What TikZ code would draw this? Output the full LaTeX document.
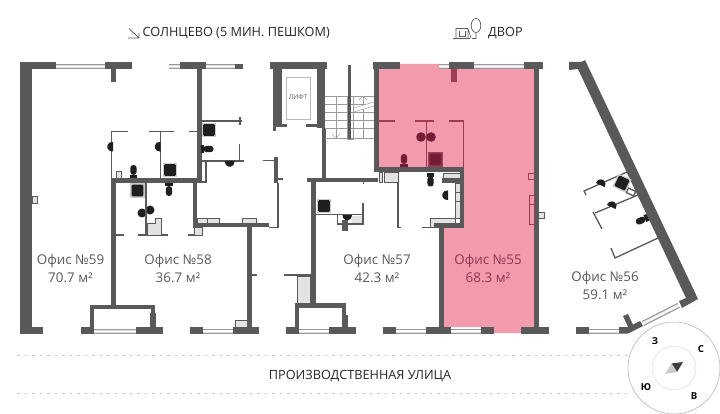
\documentclass[tikz,border=0pt]{standalone}
\usepackage{fontspec}
\setmainfont{Open Sans}
\definecolor{wallc}{HTML}{595959}
\definecolor{pinkc}{HTML}{F29BAC}
\definecolor{dpink}{HTML}{A03C58}
\definecolor{fixc}{HTML}{1F1F1F}
\definecolor{fixp}{HTML}{751C36}
\definecolor{lightb}{HTML}{E2E2E2}
\definecolor{stepc}{HTML}{9A9A9A}
\definecolor{dashc}{HTML}{C8C8C8}
\tikzset{
  wallfill/.style={fill=wallc,draw=none},
  thin wall/.style={draw=wallc,line width=1.3pt},
  pink wall/.style={draw=dpink,line width=1.3pt},
  lbox/.style={fill=lightb,draw=#1,line width=.8pt},
  lbox/.default=wallc,
  lab/.style={font=\fontsize{13.4}{15}\selectfont,text=wallc,inner sep=0pt},
  labp/.style={font=\fontsize{13.4}{15}\selectfont,text=dpink!90!black,inner sep=0pt},
  head/.style={font=\fontsize{12.7}{14}\selectfont,text=black!85,inner sep=0pt},
  comp/.style={font=\bfseries\fontsize{9.6}{11}\selectfont,text=black,inner sep=0pt},
  stepl/.style={draw=stepc,line width=.45pt}
}
\newcommand{\wl}[4]{\fill[wallfill] (#1,#2) rectangle (#3,#4);}
\newcommand{\wlp}[4]{\fill[dpink] (#1,#2) rectangle (#3,#4);}
\newcommand{\hwin}[4]{\fill[white!88!black] (#1,#2) rectangle (#3,#4);
  \draw[stepc,line width=1pt] (#1,#2+.5) -- (#3,#2+.5) (#1,#4-.5) -- (#3,#4-.5);
  \draw[white,line width=1.2pt] (#1,{(#2+#4)/2}) -- (#3,{(#2+#4)/2});}
\newcommand{\sqfix}[5]{\begin{scope}[shift={(#1,#2)},rotate=#3]
  \fill[#5] (-7.2,-7.2) rectangle (7.2,7.2);
  \fill[#4,rounded corners=1pt] (-5.8,-5.8) rectangle (5.8,5.8);
\end{scope}}
\newcommand{\toil}[4]{\begin{scope}[shift={(#1,#2)},rotate=#3]
  \fill[#4] (-3.6,6.5) rectangle (3.6,3.2);
  \fill[#4,rounded corners=3pt] (-3.2,3.4) -- (3.2,3.4) -- (3.2,-6.5) -- (-3.2,-6.5) -- cycle;
\end{scope}}
\newcommand{\bas}[4]{\begin{scope}[shift={(#1,#2)},rotate=#3]
  \fill[#4] (-4.6,1) arc[start angle=192,end angle=-12,radius=4.8] -- cycle;
\end{scope}}
\begin{document}
\begin{tikzpicture}[x=1pt,y=-1pt]
\useasboundingbox (0,0) rectangle (720,414);
\fill[white] (0,0) rectangle (720,414);

% ---------- pink office
\fill[pinkc] (379,69) -- (400,69) -- (400,64) -- (439,64) -- (439,69) -- (534,69) -- (534,327) -- (521,327) -- (521,333) -- (494,333) -- (494,327) -- (443,327) -- (443,226) -- (464,226) -- (464,172) -- (379,172) -- cycle;

% ---------- street dashes
\draw[dashc,line width=.6pt,dash pattern=on 2.5pt off 5pt] (17,355) -- (628,355);
\draw[dashc,line width=.6pt,dash pattern=on 2.5pt off 5pt] (17,393) -- (628,393);

% ---------- office 59 / 58 walls
\wl{20}{62}{56}{69}\wl{20}{62}{32}{334}\wl{20}{327}{43}{334}
\hwin{56}{64}{105}{69}
\wl{105}{62}{132}{69}\wl{110.5}{69}{116}{82}
\hwin{169}{64}{180}{69}
\wl{180}{62}{206}{69}
\hwin{206}{64}{235}{69}
\wl{235}{64}{243}{69}
\wl{197}{69}{202}{183}
\wl{111}{178}{202}{183}
\wl{111}{178}{116}{307}
\wl{90}{305}{154}{309}
\wl{90}{305}{94}{328}\wl{150}{313}{156}{328}\wl{151}{305}{155}{328}
\wl{81}{327}{94}{334}\hwin{94}{329}{136}{334}\wl{136}{327}{163}{334}
\draw[lbox] (32,196.5) rectangle (37.5,203);
\draw[thin wall] (111.5,178) -- (111.5,131.5) -- (128,131.5);
\draw[thin wall] (149,131.5) -- (174,131.5) (160.5,131.5) -- (160.5,178);
\draw[thin wall] (189,131.5) -- (198,131.5);
\draw[thin wall] (202,121) -- (242,121) (240,117) -- (240,125);
\draw[thin wall] (202,161) -- (244,161) (239.5,144) -- (239.5,161);
\draw[thin wall] (206,161) -- (206,182) -- (201,182);
\draw[lbox] (116,171) rectangle (121,178);
\sqfix{209}{130}{0}{fixc}{white!80!black}
\sqfix{170}{170}{0}{fixc}{white!80!black}
\sqfix{137.5}{190.5}{0}{fixc}{white!80!black}
\bas{114}{146.5}{-90}{fixc}
\bas{161.5}{146.5}{-90}{fixc}
\bas{229.5}{160}{0}{fixc}
\toil{133.5}{171.5}{0}{fixc}
\toil{169}{189.5}{180}{fixc}
\toil{207}{149}{-90}{fixc}
\fill[fixc] (142,213) circle[radius=4.5] (150,210) circle[radius=4.5];
\draw[thin wall] (146,183) -- (146,235);
\draw[thin wall] (116,235) -- (124,235) (138,235) -- (168,235) (188,235) -- (203,235);
\draw[lbox] (147,235) -- (147,223) -- (155,223) -- (155,218.5) -- (161,218.5) -- (161,235) -- cycle;
\wl{193}{183}{197}{228}
\wl{193}{223}{269}{227.5}
\draw[lbox] (197,218.5) rectangle (207,223);\draw[lbox] (207,218.5) rectangle (219,223);
\draw[lbox] (242,218.5) rectangle (256,223);
\draw[lbox] (194,227.5) rectangle (202,235);
\wl{247}{227}{252}{327}
\draw[thin wall] (252,275) -- (257,275);
\draw[lbox] (235,320) rectangle (247,327);
\wl{190}{327}{203}{333.5}\hwin{203}{328.5}{233}{333.5}\wl{233}{327}{259}{333.5}
\draw[thin wall] (269,227.5) -- (278,227.5) -- (278,183);
\draw[thin wall] (263,160.5) -- (275,160.5) ;
\wl{273.5}{157}{278}{183}
\draw[thin wall] (278,179) -- (283,179);

% ---------- lift + stair
\wl{270}{62}{327}{69}
\wl{273}{69}{282}{125}
\wl{317}{69}{325}{128}
\wl{322}{128}{326}{178}
\wl{273}{125}{276}{131}
\wl{276}{124}{287}{127}
\wl{306}{124}{322}{127.5}
\draw[draw=stepc!70,line width=.8pt] (286,77) rectangle (310,119);
\node[inner sep=0pt,font=\fontsize{6.6}{8}\selectfont,text=wallc] (lift) at (298,97.5) {ЛИФТ};
\foreach \yy in {96,104,112,120,128,138.5}{\draw[stepl] (325,\yy) -- (374,\yy);}
\draw[stepl] (336,96) -- (336,138) (363,96) -- (363,138);
\draw[stepl] (332,134) -- (336,138.5) -- (340,134);
\draw[stepl] (359,100) -- (363,96) -- (367,100);
\fill[white] (354,108) -- (374,102) -- (374,106) -- (354,112) -- cycle;
\draw[stepl] (354,108) -- (374,102) (354,112) -- (374,106);
\draw[stepl] (347,96) rectangle (353.5,139);
\wl{348}{65}{351}{139}
\wl{311}{178}{378}{182.5}
\wl{307}{178}{316}{182.5}
\fill[wallc] (363,182) rectangle (364,184);

% ---------- pink office walls
\wl{373}{62}{400}{69}
\wl{374}{69}{379}{172}
\wl{374}{167}{464}{172}
\hwin{439}{64}{449}{69}
\wl{449}{62}{474}{69}
\hwin{474}{64}{524}{69}
\wl{524}{62}{543}{69}
\wl{534}{69}{539}{327}
\wlp{451}{69}{457}{82}
\draw[pink wall] (379,121) -- (395,121) (415,121) -- (434,121) (449,121) -- (463.5,121) -- (463.5,167);
\draw[pink wall] (426.5,121) -- (426.5,167);
\fill[fixp] (421,137) circle[radius=4.8] (431,137) circle[radius=4.8];
\sqfix{435.5}{159.5}{0}{fixp}{dpink}
\toil{404}{160.5}{0}{fixp}
\draw[dpink,line width=.9pt,fill=pinkc] (528.5,173.5) rectangle (534,179);
\draw[dpink,line width=.9pt,fill=pinkc] (529.5,195) rectangle (534,204) (529.5,204) rectangle (534,224);
\draw[lbox] (538.5,212) rectangle (544.5,218);

% ---------- office 57 walls
\wl{311}{178}{316}{307}
\wl{296}{303}{346}{307.5}
\wl{295}{303}{299}{328}\wl{342}{303}{346}{328}\wl{342}{315}{347.5}{328}
\wl{286}{327}{299}{333.5}\hwin{299}{328.5}{329}{333.5}\wl{329}{327}{356}{333.5}
\draw[thin wall] (284,275) -- (311,275);
\draw[lbox] (297,276) rectangle (310.5,303);
\sqfix{324}{206}{0}{fixc}{white!80!black}
\bas{347}{213.5}{0}{fixc}
\draw[thin wall] (316,214.5) -- (363,214.5) (363,203) -- (363,224) -- (337.5,224) -- (337.5,214.5);
\fill[lightb] (352,216) rectangle (362,223);
\wl{342}{220}{348}{231}
\draw[thin wall] (398,172) -- (398,227.5) -- (401,227.5);
\draw[lbox] (379,172.5) rectangle (382.5,182);
\draw[lbox] (384,172.5) rectangle (398,182);
\toil{430.5}{180}{180}{fixc}
\bas{449}{195}{-90}{fixc}
\wl{442}{178}{464}{183}
\draw[lbox] (443,173) rectangle (460,178);
\wl{460}{172}{464}{226}
\draw[lbox] (455,183) rectangle (460,192);\draw[lbox] (455,192) rectangle (460,201);
\draw[lbox] (455,201) rectangle (460,218);
\wl{435}{223}{464}{228}
\wl{439}{223}{444}{327}
\draw[lbox] (430,218) -- (455,218) -- (455,223) -- (434,223) -- (434,227) -- (430,227) -- cycle;
\draw[thin wall] (422,227.5) -- (435,227.5);
\wl{383}{327}{396}{333.5}\hwin{396}{328.5}{426}{333.5}\wl{426}{327}{451}{333.5}
\hwin{451}{328.5}{481}{333.5}\wl{481}{327}{494}{333.5}\wl{521}{327}{549}{333.5}

% ---------- office 56 (slanted)
\fill[wallfill] (569,62) -- (569,70) -- (578,69) -- (686,298) -- (679,301) -- (682,308) -- (698,299) -- (585,60) -- (581,62) -- cycle;
\begin{scope}[shift={(643,323.5)},rotate=27]
  \fill[white!88!black] (0,-2.6) rectangle (40,2.6);
  \draw[stepc,line width=1pt] (0,-2.2) -- (40,-2.2) (0,2.2) -- (40,2.2);
  \draw[white,line width=1.2pt] (0,0) -- (40,0);
\end{scope}
\fill[wallfill] (619,327) -- (628,327) -- (640,321) -- (643,326) -- (628,333.5) -- (619,333.5) -- cycle;
\fill[wallfill] (623,316) -- (628,314) -- (634,327) -- (629,329) -- cycle;
\hwin{589}{328.5}{619}{333.5}
\wl{576}{327}{589}{333.5}
\draw[thin wall] (586,195) -- (584,191) -- (627,172);
\draw[thin wall] (602,229) -- (593,212) (595,213) -- (638,195);
\draw[thin wall] (611,248) -- (615,258) -- (658,238);
\draw[thin wall,fill=white,rotate around={-25:(631,192)}] (627,189.5) rectangle (635,194.5);
\sqfix{622}{183}{-25}{fixc}{white!80!black}
\bas{600}{186}{155}{fixc}
\bas{611}{208}{155}{fixc}
\toil{642}{220}{115}{fixc}

% ---------- compass
\fill[white] (674,368) circle[radius=46];
\draw[stepc!80,line width=.5pt] (674,368) circle[radius=46];
\draw[black!15,line width=.5pt] (674,368) circle[radius=22];
\fill[wallc!70!black] (683,362) -- (671.5,363.5) -- (677,372) -- cycle;
\fill[lightb!90!black] (665,374) -- (671.5,363.5) -- (677,372) -- cycle;
\node[comp] (zz) at (655,341) {З};
\node[comp] (cc) at (701,349) {С};
\node[comp] (yu) at (646,387.5) {Ю};
\node[comp] (vv) at (694,396) {В};

% ---------- texts
\draw[wallc,line width=.7pt] (129,28.5) -- (139,38) (139,33) -- (139,38) -- (128,38);
\node[head,anchor=west] (sol) at (142.5,33) {СОЛНЦЕВО (5 МИН. ПЕШКОМ)};
\node[head,anchor=west] (dvor) at (488,33) {ДВОР};
\draw[wallc,line width=.6pt] (453,38.5) -- (470,38.5) (456,38) -- (456,28.5) -- (468,28.5) -- (471,38) (468,28.5) -- (468,38);
\draw[wallc,line width=.5pt] (459.5,31) -- (459.5,36) -- (465,36) -- (465,31);
\draw[wallc,line width=.7pt] (476,25.5) ellipse[x radius=4.8,y radius=7] (476,32.5) -- (476,38.5) -- (472,38.5);
\node[head] (street) at (360,376) {ПРОИЗВОДСТВЕННАЯ УЛИЦА};
\node[lab] (o59) at (70.5,261) {Офис №59};
\node[lab] (a59) at (70.5,278) {70.7 м²};
\node[lab] (o58) at (178,261) {Офис №58};
\node[lab] (a58) at (178,278) {36.7 м²};
\node[lab] (o57) at (377,261) {Офис №57};
\node[lab] (a57) at (377,278) {42.3 м²};
\node[labp] (o55) at (488,261) {Офис №55};
\node[labp] (a55) at (488,278) {68.3 м²};
\node[lab] (o56) at (605,278) {Офис №56};
\node[lab] (a56) at (605,294.5) {59.1 м²};
\end{tikzpicture}
\end{document}
